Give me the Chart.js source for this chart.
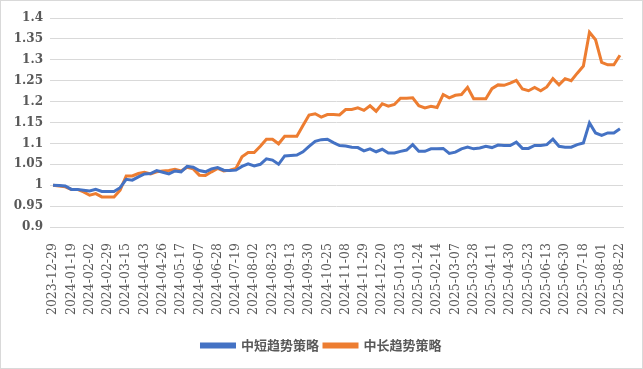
<!DOCTYPE html>
<html>
<head>
<meta charset="utf-8">
<script src="https://cdn.jsdelivr.net/npm/chart.js@4.4.1/dist/chart.umd.min.js"></script>
<style>
	html, body { margin: 0; padding: 0; background: #ffffff; }
	#wrap {
		width: 643px;
		height: 369px;
		box-sizing: border-box;
		border: 1px solid #d9d9d9;
		background: #ffffff;
	}
	canvas { display: block; }
</style>
</head>
<body>
<div id="wrap"><canvas id="chart" width="641" height="367"></canvas></div>
<script>
// dates (weekly closes plus month ends), one label shown every 3rd point
const dates = [
	"2023-12-29", "2024-01-05", "2024-01-12", "2024-01-19", "2024-01-26", "2024-01-31",
	"2024-02-02", "2024-02-08", "2024-02-23", "2024-02-29", "2024-03-01", "2024-03-08",
	"2024-03-15", "2024-03-22", "2024-03-29", "2024-04-03", "2024-04-12", "2024-04-19",
	"2024-04-26", "2024-04-30", "2024-05-10", "2024-05-17", "2024-05-24", "2024-05-31",
	"2024-06-07", "2024-06-14", "2024-06-21", "2024-06-28", "2024-07-05", "2024-07-12",
	"2024-07-19", "2024-07-26", "2024-07-31", "2024-08-02", "2024-08-09", "2024-08-16",
	"2024-08-23", "2024-08-30", "2024-09-06", "2024-09-13", "2024-09-20", "2024-09-27",
	"2024-09-30", "2024-10-11", "2024-10-18", "2024-10-25", "2024-10-31", "2024-11-01",
	"2024-11-08", "2024-11-15", "2024-11-22", "2024-11-29", "2024-12-06", "2024-12-13",
	"2024-12-20", "2024-12-27", "2024-12-31", "2025-01-03", "2025-01-10", "2025-01-17",
	"2025-01-24", "2025-01-27", "2025-02-07", "2025-02-14", "2025-02-21", "2025-02-28",
	"2025-03-07", "2025-03-14", "2025-03-21", "2025-03-28", "2025-03-31", "2025-04-03",
	"2025-04-11", "2025-04-18", "2025-04-25", "2025-04-30", "2025-05-09", "2025-05-16",
	"2025-05-23", "2025-05-30", "2025-06-06", "2025-06-13", "2025-06-20", "2025-06-27",
	"2025-06-30", "2025-07-04", "2025-07-11", "2025-07-18", "2025-07-25", "2025-07-31",
	"2025-08-01", "2025-08-08", "2025-08-15", "2025-08-22"
];

// 中短趋势策略
const shortTrend = [
	1.0, 0.999, 0.998, 0.99, 0.99, 0.988, 0.986, 0.99, 0.985, 0.985,
	0.985, 0.994, 1.014, 1.012, 1.02, 1.027, 1.028, 1.035, 1.031, 1.027,
	1.034, 1.032, 1.045, 1.043, 1.035, 1.032, 1.039, 1.042, 1.036, 1.035,
	1.036, 1.045, 1.051, 1.046, 1.05, 1.063, 1.06, 1.05, 1.07, 1.071,
	1.072, 1.08, 1.093, 1.105, 1.109, 1.11, 1.102, 1.095, 1.094, 1.091,
	1.09, 1.082, 1.087, 1.08, 1.086, 1.077, 1.077, 1.081, 1.084, 1.097,
	1.081, 1.081, 1.087, 1.087, 1.088, 1.076, 1.079, 1.087, 1.091, 1.087,
	1.089, 1.093, 1.09, 1.096, 1.095, 1.095, 1.103, 1.088, 1.088, 1.095,
	1.095, 1.097, 1.11, 1.093, 1.091, 1.091, 1.097, 1.101, 1.149, 1.125,
	1.119, 1.125, 1.125, 1.135
];

// 中长趋势策略
const longTrend = [
	1.0, 0.998, 0.996, 0.99, 0.99, 0.984, 0.976, 0.98, 0.972, 0.972,
	0.972, 0.988, 1.022, 1.022, 1.028, 1.031, 1.027, 1.032, 1.034, 1.035,
	1.038, 1.034, 1.043, 1.039, 1.024, 1.023, 1.032, 1.04, 1.034, 1.036,
	1.04, 1.068, 1.078, 1.078, 1.093, 1.11, 1.11, 1.099, 1.117, 1.117,
	1.117, 1.143, 1.168, 1.171, 1.163, 1.169, 1.169, 1.168, 1.181, 1.181,
	1.185, 1.179, 1.19, 1.177, 1.195, 1.189, 1.193, 1.208, 1.208, 1.209,
	1.19, 1.185, 1.189, 1.186, 1.217, 1.209, 1.215, 1.217, 1.234, 1.207,
	1.207, 1.207, 1.231, 1.24, 1.239, 1.244, 1.251, 1.23, 1.226, 1.234,
	1.226, 1.235, 1.255, 1.24, 1.255, 1.25, 1.268, 1.285, 1.366, 1.348,
	1.294, 1.288, 1.288, 1.311
];

const seriesNames = ["中短趋势策略", "中长趋势策略"];
const yMin = 0.9;
const yMax = 1.4;
const yStep = 0.05;
const labelEvery = 3;

const textColor = "#595959";
const gridColor = "#d9d9d9";

function noScalePadding(scale) {
	scale.paddingTop = 0;
	scale.paddingBottom = 0;
	scale.paddingLeft = 0;
	scale.paddingRight = 0;
}

new Chart(document.getElementById("chart"), {
	type: "line",
	data: {
		labels: dates,
		datasets: [
			{
				label: seriesNames[0],
				data: shortTrend,
				borderColor: "#4472c4",
				backgroundColor: "#4472c4",
				borderWidth: 3,
				pointRadius: 0,
				tension: 0
			},
			{
				label: seriesNames[1],
				data: longTrend,
				borderColor: "#ed7d31",
				backgroundColor: "#ed7d31",
				borderWidth: 3,
				pointRadius: 0,
				tension: 0
			}
		]
	},
	options: {
		responsive: false,
		animation: false,
		layout: { padding: { top: 17, right: 0, bottom: 6, left: 0 } },
		plugins: {
			tooltip: { enabled: false },
			legend: {
				position: "bottom",
				labels: {
					color: textColor,
					boxWidth: 33,
					boxHeight: 3,
					padding: 5,
					font: { family: "'Noto Sans CJK SC'", size: 13, weight: "bold" }
				}
			}
		},
		scales: {
			x: {
				offset: true,
				grid: { display: false },
				border: { display: true, color: gridColor },
				ticks: {
					autoSkip: false,
					minRotation: 90,
					maxRotation: 90,
					padding: 8,
					color: textColor,
					font: { family: "'DejaVu Serif'", size: 12.5 },
					callback: (value, index) => (index % labelEvery === 0 ? dates[index] : "")
				},
				afterFit: (scale) => {
					scale.height = 107;
					noScalePadding(scale);
				}
			},
			y: {
				min: yMin,
				max: yMax,
				grid: { color: gridColor, drawTicks: false },
				border: { display: false },
				ticks: {
					stepSize: yStep,
					padding: 7,
					color: textColor,
					font: { family: "'DejaVu Serif'", size: 12, weight: "bold" },
					callback: (value) => String(Number(value.toFixed(2)))
				},
				afterFit: (scale) => {
					scale.width = 49;
					noScalePadding(scale);
				}
			},
			// empty right-hand axis: keeps the right margin inside the layout so the legend stays centred
			yRight: {
				position: "right",
				min: yMin,
				max: yMax,
				grid: { display: false },
				border: { display: false },
				ticks: { callback: () => "" },
				afterFit: (scale) => {
					scale.width = 19;
					noScalePadding(scale);
				}
			}
		}
	}
});
</script>
</body>
</html>
